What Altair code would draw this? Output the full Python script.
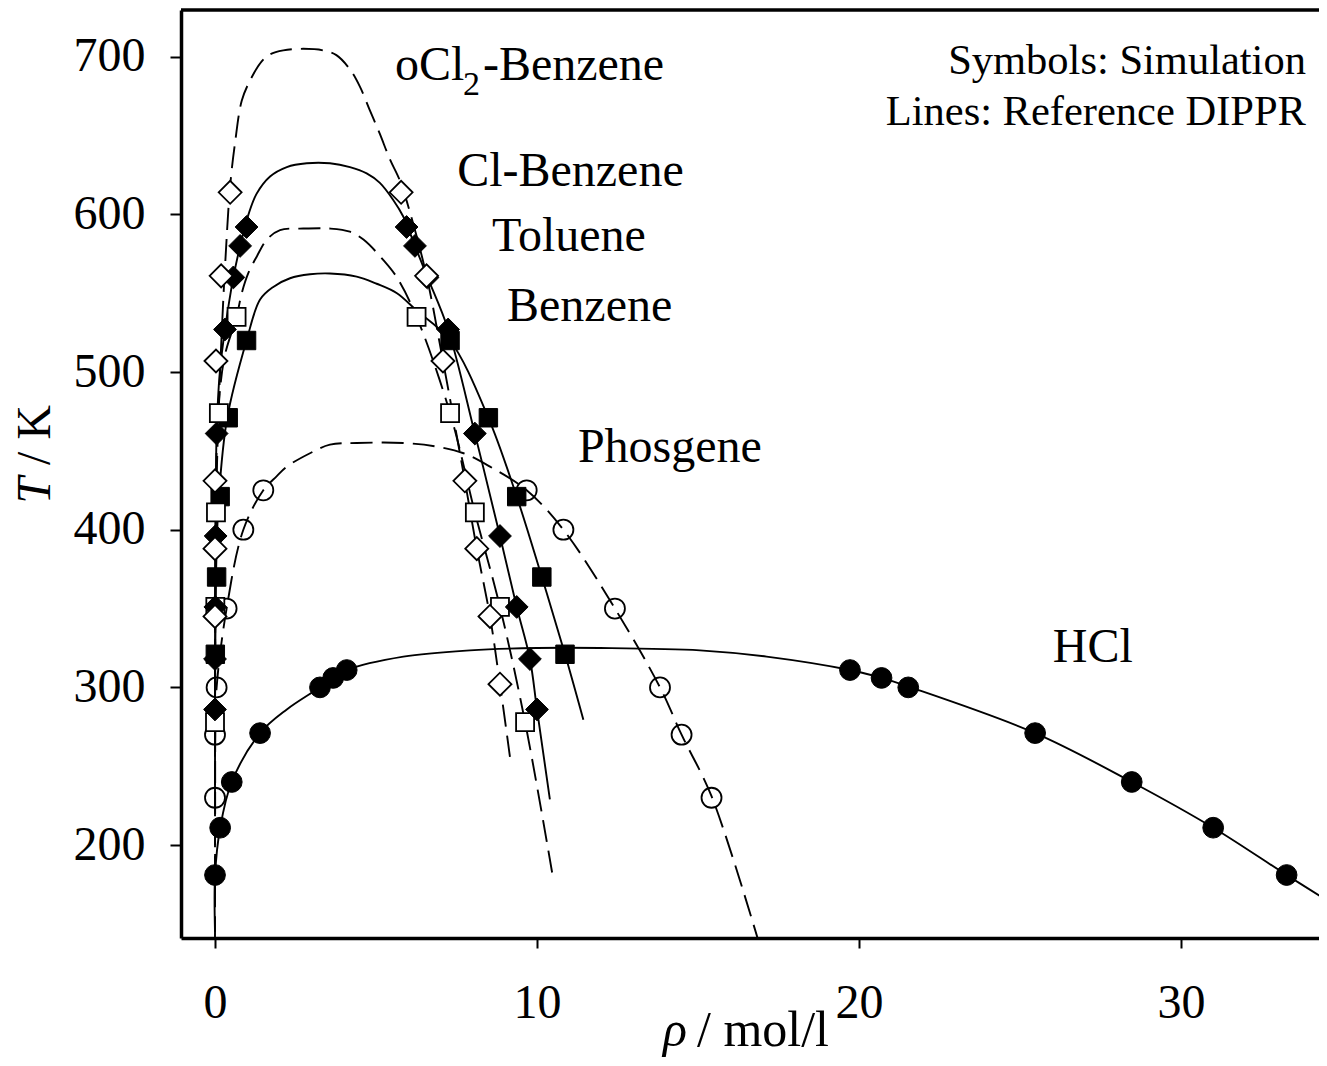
import altair as alt
import pandas as pd

FONT = "Liberation Serif"
W, H = 1138, 928

# ---------------- Simulation points ----------------
ocl2_px = [0.47, 0.19, 0.03, 0.0, 0.0, 0.0, 5.78, 6.57, 7.08, 7.76, 8.13, 8.54, 8.85]
ocl2_pT = [614, 561, 507, 431, 388, 345, 614, 561, 507, 431, 388, 345, 302]

clb_px = [0.98, 0.78, 0.57, 0.31, 0.05, 0.02, 0.01, 0.0, 0.0,
          5.95, 6.21, 6.60, 7.24, 8.07, 8.85, 9.37, 9.78, 10.0]
clb_pT = [592, 580, 560, 527, 461, 396, 351, 318, 286,
          592, 580, 560, 527, 461, 396, 351, 318, 286]

tol_px = [0.67, 0.12, 0.03, 0.01, 0.0, 6.26, 7.30, 8.07, 8.85, 9.63]
tol_pT = [535, 474, 411, 351, 278, 535, 474, 411, 351, 278]

ben_px = [0.98, 0.41, 0.16, 0.05, 0.01, 7.30, 8.49, 9.37, 10.15, 10.87]
ben_pT = [520, 471, 421, 370, 321, 520, 471, 421, 370, 321]

pho_px = [1.50, 0.88, 0.36, 0.05, 0.0, 0.0, 9.68, 10.82, 12.42, 13.82, 14.49, 15.42]
pho_pT = [425, 400, 350, 300, 270, 230, 425, 400, 350, 300, 270, 230]

hcl_px = [0.0, 0.16, 0.52, 1.40, 3.26, 3.67, 4.09, 19.72, 20.70, 21.53, 25.47, 28.47, 31.0, 33.28]
hcl_pT = [181, 211, 240, 271, 300, 306, 311, 311, 306, 300, 271, 240, 211, 181]

# ---------------- Reference (DIPPR) lines ----------------
ocl2_lx = [0.0, 0.003, 0.008, 0.02, 0.05, 0.12, 0.22, 0.32, 0.47, 0.62, 0.83, 1.09, 1.45, 1.71,
           2.12, 2.74, 3.36, 3.77, 4.19, 4.50, 4.81, 5.12, 5.43, 5.75, 6.06, 6.57, 7.08, 7.76,
           8.13, 8.54, 8.85, 9.16]
ocl2_lT = [256, 300, 345, 388, 431, 480, 530, 570, 618, 645, 672, 685, 697, 701.5,
           704, 705, 704, 701, 692, 681, 666, 651, 635, 621, 601, 561, 507, 431,
           388, 345, 302, 256]

clb_lx = [0.0, 0.002, 0.005, 0.01, 0.02, 0.05, 0.15, 0.31, 0.57, 0.78, 1.04, 1.29, 1.71, 2.23,
          2.85, 3.57, 4.19, 4.71, 5.12, 5.54, 5.85, 6.21, 6.60, 7.24, 8.07, 8.85, 9.37, 9.78,
          10.0, 10.4]
clb_lT = [229, 286, 318, 351, 396, 461, 500, 527, 560, 580, 600, 613, 624, 630,
          632.4, 632.4, 630, 626, 620, 609, 598.5, 580, 560, 527, 461, 396, 351, 318,
          286, 229]

tol_lx = [0.0, 0.002, 0.006, 0.02, 0.10, 0.30, 0.67, 0.83, 1.04, 1.29, 1.61, 2.02, 2.74, 3.57,
          4.19, 4.61, 5.23, 5.65, 6.26, 7.30, 8.07, 8.85, 9.63, 10.5]
tol_lT = [179, 278, 351, 411, 474, 510, 535, 550, 563, 573, 584, 590, 591, 591,
          589, 584, 571, 560, 535, 474, 411, 351, 278, 179]

ben_lx = [0.0, 0.005, 0.03, 0.12, 0.38, 0.98, 1.40, 1.81, 2.33, 2.95, 3.57, 4.40, 5.02, 5.65,
          6.26, 7.30, 8.49, 9.37, 10.15, 10.87, 11.44]
ben_lT = [279.5, 321, 370, 421, 471, 520, 546, 554, 559.5, 562, 562.5, 560.5, 556, 550,
          539, 520, 471, 421, 370, 321, 279.5]

pho_lx = [0.0, 0.005, 0.01, 0.05, 0.36, 0.88, 1.50, 1.92, 2.23, 2.95, 3.57, 4.40, 5.85, 6.89,
          7.72, 8.54, 9.68, 10.82, 12.42, 13.82, 14.49, 15.42, 16.85]
pho_lT = [141, 231, 270, 300, 350, 400, 425, 434, 440, 448.5, 454, 455, 455, 452.7,
          448.5, 440, 425, 400, 350, 300, 270, 231, 141]

hcl_lx = [0.0, 0.002, 0.16, 0.52, 1.40, 2.23, 3.26, 3.67, 4.09, 5.85, 7.92, 10.0, 11.96, 15.06,
          17.13, 19.72, 20.70, 21.53, 25.47, 28.47, 31.0, 33.28, 34.53]
hcl_lT = [145, 181, 211, 240, 271, 286, 300, 306, 311, 319.5, 323.5, 325, 325, 323.5,
          319.5, 311, 306, 300.5, 271, 240, 211, 181, 165]

x_ticks = [0, 10, 20, 30]
y_ticks = [200, 300, 400, 500, 600, 700]

xscale = alt.Scale(domain=[-1.056, 34.286], nice=False, zero=False)
yscale = alt.Scale(domain=[141.05, 729.62], nice=False, zero=False)

common_axis = dict(title=None, grid=False, tickColor="black", domainColor="black",
                   labelColor="black", labelFont=FONT, labelFontSize=48,
                   tickWidth=2, domainWidth=3.5, labelFlush=False, labelOverlap=False,
                   format="d")
xaxis = alt.Axis(values=x_ticks, tickSize=10, labelPadding=31, **common_axis)
yaxis = alt.Axis(values=y_ticks, tickSize=11, labelPadding=25, **common_axis)


def enc(chart):
    return chart.encode(
        x=alt.X("x:Q", scale=xscale, axis=xaxis),
        y=alt.Y("T:Q", scale=yscale, axis=yaxis),
    )


def line_layer(xs, Ts, dashed):
    df = pd.DataFrame({"x": xs, "T": Ts, "i": list(range(len(xs)))})
    kw = dict(clip=True, interpolate="catmull-rom", color="black", strokeWidth=1.9)
    if dashed:
        kw["strokeDash"] = [22, 9]
    return enc(alt.Chart(df).mark_line(**kw)).encode(order="i:Q")


def point_layer(xs, Ts, shape, filled, size, white=True):
    df = pd.DataFrame({"x": xs, "T": Ts})
    if filled:
        m = alt.Chart(df).mark_point(shape=shape, filled=True, fill="black", stroke="black",
                                     strokeWidth=1, size=size, opacity=1)
    elif white:
        m = alt.Chart(df).mark_point(shape=shape, filled=True, fill="white", stroke="black",
                                     strokeWidth=1.8, size=size, opacity=1, fillOpacity=1)
    else:
        m = alt.Chart(df).mark_point(shape=shape, filled=False, stroke="black",
                                     strokeWidth=1.8, size=size, opacity=1)
    return enc(m)


def text_layer(txt, x, T, size=48, align="left", style="normal"):
    df = pd.DataFrame({"x": [x], "T": [T], "t": [txt]})
    return enc(alt.Chart(df).mark_text(align=align, baseline="alphabetic", font=FONT,
                                       fontSize=size, fontStyle=style, color="black")
               ).encode(text="t:N")


def pix_text(txt, px, py, size=48, align="left", style="normal", angle=0, baseline="alphabetic"):
    df = pd.DataFrame({"t": [txt]})
    kw = dict(align=align, baseline=baseline, font=FONT, fontSize=size,
              fontStyle=style, color="black")
    if angle:
        kw["angle"] = angle
    return alt.Chart(df).mark_text(**kw).encode(x=alt.value(px), y=alt.value(py), text="t:N")


layers = [
    line_layer(ocl2_lx, ocl2_lT, True),
    line_layer(clb_lx, clb_lT, False),
    line_layer(tol_lx, tol_lT, True),
    line_layer(ben_lx, ben_lT, False),
    line_layer(pho_lx, pho_lT, True),
    line_layer(hcl_lx, hcl_lT, False),
    point_layer(pho_px, pho_pT, "circle", False, 400, white=False),
    point_layer(hcl_px, hcl_pT, "circle", True, 430),
    point_layer(ben_px, ben_pT, "square", True, 340),
    point_layer(tol_px, tol_pT, "square", False, 324),
    point_layer(clb_px, clb_pT, "diamond", True, 520),
    point_layer(ocl2_px, ocl2_pT, "diamond", False, 529),
    # labels
    text_layer("oCl", 5.59, 685.2),
    text_layer("2", 7.70, 675.5, size=34),
    text_layer("-Benzene", 8.32, 685.2),
    text_layer("Cl-Benzene", 7.52, 617.9),
    text_layer("Toluene", 8.60, 576.7),
    text_layer("Benzene", 9.07, 532.3),
    text_layer("Phosgene", 11.27, 442.9),
    text_layer("HCl", 26.02, 316.1),
    text_layer("Symbols: Simulation", 33.88, 689.0, size=42.5, align="right"),
    text_layer("Lines: Reference DIPPR", 33.88, 656.5, size=42.5, align="right"),
]

# top frame line
frame_df = pd.DataFrame({"a": [0]})
top_rule = alt.Chart(frame_df).mark_rule(color="black", strokeWidth=3.5).encode(
    x=alt.value(0), x2=alt.value(W), y=alt.value(0))

# axis titles
titles = [
    pix_text("T", -145, 467, size=48, align="right", style="italic", angle=270, baseline="middle"),
    pix_text("/ K", -145, 455, size=48, align="left", angle=270, baseline="middle"),
    pix_text("\u03c1", 482, 1036, size=50, align="left", style="italic"),
    pix_text("/ mol/l", 516, 1036, size=50, align="left"),
]

chart = alt.layer(*layers, top_rule, *titles).properties(
    width=W, height=H,
    autosize=alt.AutoSizeParams(type="none"),
    padding={"left": 173, "top": 2, "right": 0, "bottom": 120},
    background="white",
).configure_view(strokeWidth=0)

chart.save("out.html", embed_options={"renderer": "svg", "actions": False})
